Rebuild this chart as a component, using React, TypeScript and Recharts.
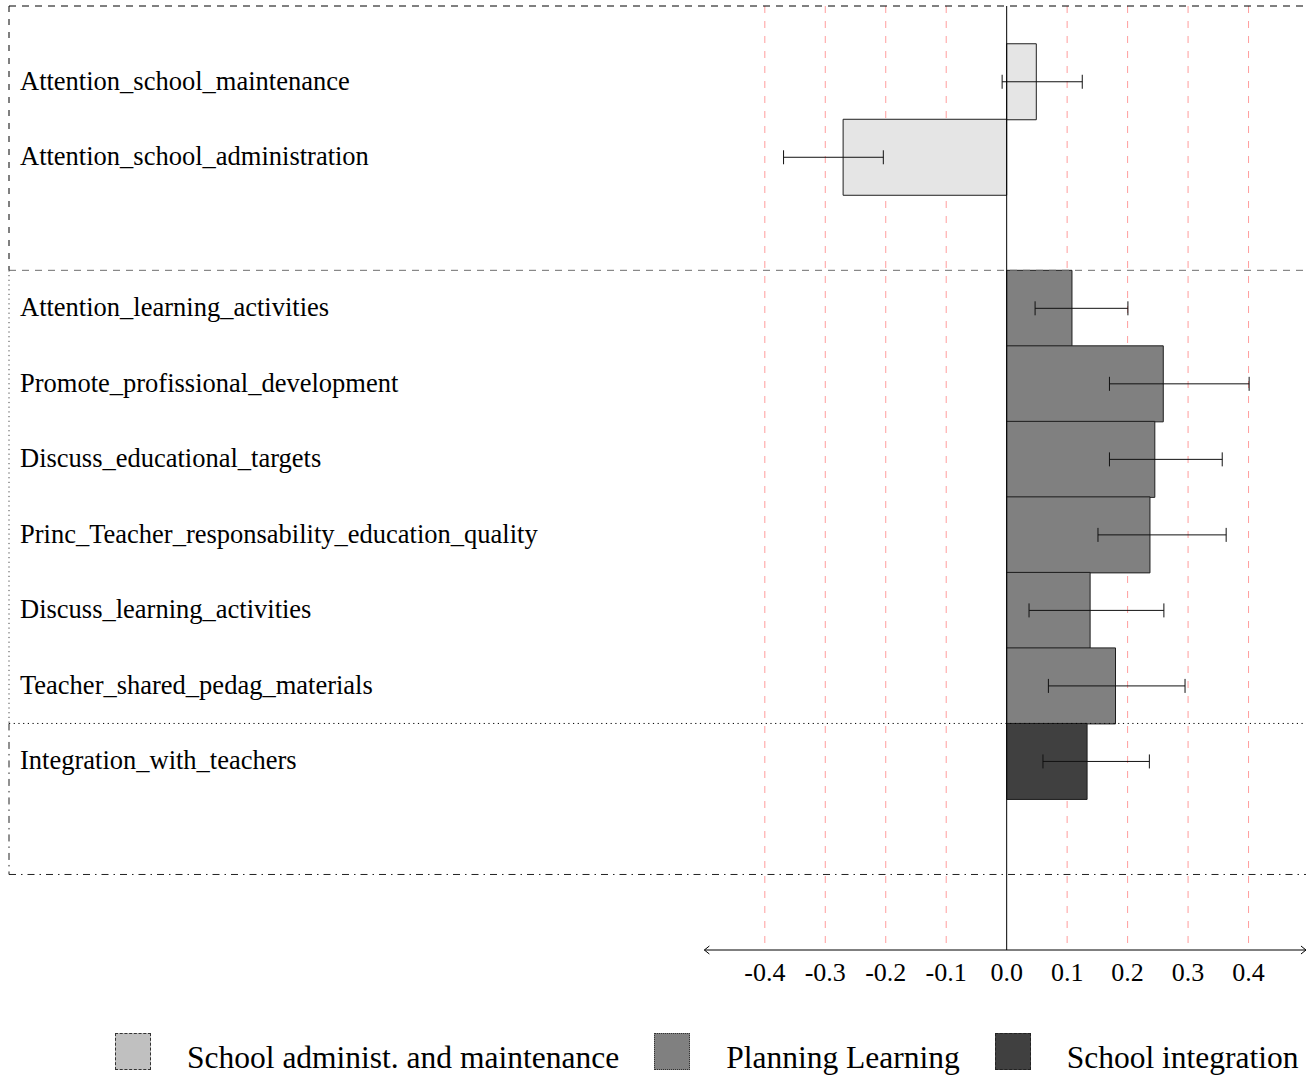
import React from 'react';
import { BarChart, Bar, Cell, XAxis, YAxis, CartesianGrid, ReferenceLine, ErrorBar, Legend } from 'recharts';

// Rows from top to bottom; null marks an empty spacer row.
const LABELS: (string | null)[] = [
  'Attention_school_maintenance',
  'Attention_school_administration',
  null,
  'Attention_learning_activities',
  'Promote_profissional_development',
  'Discuss_educational_targets',
  'Princ_Teacher_responsability_education_quality',
  'Discuss_learning_activities',
  'Teacher_shared_pedag_materials',
  'Integration_with_teachers',
  null,
  null,
];

const GROUPS: (string | null)[] = [
  'admin', 'admin', null,
  'planning', 'planning', 'planning', 'planning', 'planning', 'planning',
  'integration', null, null,
];

const VALUES: (number | null)[] = [0.049, -0.2705, null, 0.108, 0.259, 0.245, 0.237, 0.138, 0.18, 0.133, null, null];
const CI_LOW: (number | null)[] = [-0.0075, -0.369, null, 0.047, 0.17, 0.17, 0.151, 0.037, 0.069, 0.06, null, null];
const CI_HIGH: (number | null)[] = [0.125, -0.204, null, 0.2005, 0.401, 0.3565, 0.363, 0.26, 0.295, 0.236, null, null];

const X_TICKS = [-0.4, -0.3, -0.2, -0.1, 0, 0.1, 0.2, 0.3, 0.4];
const AXIS_RANGE = [-0.5, 0.495];

const LEGEND_KEYS = ['admin', 'planning', 'integration'];
const LEGEND_LABELS = ['School administ. and maintenance', 'Planning Learning', 'School integration'];

const GROUP_STYLE: Record<string, { fill: string; swatch: string; border: string }> = {
  admin: { fill: '#e5e5e5', swatch: '#c0c0c0', border: '1px dashed #333' },
  planning: { fill: '#808080', swatch: '#808080', border: '1px dotted #333' },
  integration: { fill: '#404040', swatch: '#404040', border: '1px dashed #222' },
};

const FONT = '"Liberation Serif", "DejaVu Serif", serif';
const W = 1309;
const H = 1078;
const PLOT_TOP = 6;
const PLOT_BOTTOM = 950;
const X_MIN = -1.65;
const X_MAX = 0.5;
const ROWS = LABELS.length;
const BAND = (PLOT_BOTTOM - PLOT_TOP) / (ROWS + 0.5);

const data = LABELS.map((label, i) => ({
  id: label ?? `gap${i}`,
  row: i,
  label: label ?? '',
  group: GROUPS[i],
  value: VALUES[i],
  err:
    VALUES[i] == null || CI_LOW[i] == null || CI_HIGH[i] == null
      ? undefined
      : [(VALUES[i] as number) - (CI_LOW[i] as number), (CI_HIGH[i] as number) - (VALUES[i] as number)],
}));

const labelById: Record<string, string> = Object.fromEntries(data.map((d) => [d.id, d.label]));

// section boundaries of the framed panel, in row units
const planStart = GROUPS.indexOf('planning');
const integStart = GROUPS.indexOf('integration');
const frameBottom = GROUPS.lastIndexOf('integration') + 2;

// vertical grid only at the non-zero ticks, placed by the x scale
const gridX = ({ xAxis }: any) => {
  const s = xAxis.scale;
  const map = (v: number) => (typeof s === 'function' ? s(v) : s.map(v));
  return X_TICKS.filter((t) => t !== 0).map(map);
};

const RowLabel = (props: any) => {
  const { y, payload } = props;
  const text = labelById[payload.value];
  if (!text) return null;
  return (
    <text x={20} y={y} dy={8} fontSize={26.5} fontFamily={FONT} fill="#000" textAnchor="start">
      {text}
    </text>
  );
};

const XTick = (props: any) => {
  const { x, y, payload } = props;
  return (
    <text x={x} y={y} dy={23} fontSize={26} fontFamily={FONT} fill="#000" textAnchor="middle">
      {Number(payload.value).toFixed(1)}
    </text>
  );
};

const ArrowAxis = (props: any) => {
  const { x1, y1, x2, y2 } = props;
  return (
    <g stroke="#000" strokeWidth={1} fill="none">
      <line x1={x1} y1={y1} x2={x2} y2={y2} />
      <polyline points={`${x1 + 5},${y1 - 4} ${x1},${y1} ${x1 + 5},${y1 + 4}`} />
      <polyline points={`${x2 - 5},${y2 - 4} ${x2},${y2} ${x2 - 5},${y2 + 4}`} />
    </g>
  );
};

const renderLegend = () => (
  <div style={{ display: 'flex', alignItems: 'flex-start', paddingLeft: 115, fontFamily: FONT, fontSize: 31.5 }}>
    {LEGEND_KEYS.map((key, i) => (
      <div key={key} style={{ display: 'flex', alignItems: 'flex-start', marginRight: 35 }}>
        <div
          style={{
            width: 34,
            height: 35,
            background: GROUP_STYLE[key].swatch,
            border: GROUP_STYLE[key].border,
            marginRight: 36,
          }}
        />
        <span style={{ lineHeight: '36px', marginTop: 6.5, color: '#000', whiteSpace: 'nowrap' }}>{LEGEND_LABELS[i]}</span>
      </div>
    ))}
  </div>
);

const frameLines = [
  { y: -0.5, dash: '7 6', stroke: '#000' },
  { y: planStart, dash: '7 6', stroke: '#6e6e6e' },
  { y: integStart, dash: '1.2 3.5', stroke: '#000' },
  { y: frameBottom, dash: '7 5 1.5 5', stroke: '#222' },
];

const frameSides = [
  { from: -0.5, to: planStart, dash: '6 7', stroke: '#000' },
  { from: planStart, to: integStart, dash: '1.2 3.5', stroke: '#444' },
  { from: integStart, to: frameBottom, dash: '7 5 1.5 5', stroke: '#222' },
];

export default function App() {
  return (
    <div
      style={{
        position: 'absolute',
        left: 0,
        top: 0,
        width: 1306,
        height: 1078,
        overflow: 'hidden',
        background: '#fff',
      }}
    >
      <BarChart
        width={W}
        height={H}
        layout="vertical"
        data={data}
        barCategoryGap={0}
        margin={{ top: PLOT_TOP, right: 0, bottom: H - PLOT_BOTTOM - 60, left: 0 }}
      >
        <CartesianGrid
          horizontal={false}
          stroke="#ff9d9d"
          strokeDasharray="7 8"
          verticalCoordinatesGenerator={gridX}
        />
        <XAxis
          type="number"
          domain={[X_MIN, X_MAX]}
          allowDataOverflow
          ticks={X_TICKS}
          interval={0}
          height={60}
          axisLine={false}
          tickLine={false}
          tick={<XTick />}
        />
        <YAxis
          type="category"
          dataKey="id"
          width={9}
          interval={0}
          axisLine={false}
          tickLine={false}
          padding={{ top: BAND / 2, bottom: 0 }}
          tick={<RowLabel />}
        />
        {/* row-unit axis used to place the frame and the x axis arrow */}
        <YAxis yAxisId="frame" type="number" dataKey="row" domain={[-0.5, ROWS]} hide allowDataOverflow />

        {frameLines.map((l) => (
          <ReferenceLine
            key={`h${l.y}`}
            yAxisId="frame"
            ifOverflow="visible"
            segment={[{ x: X_MIN, y: l.y }, { x: X_MAX, y: l.y }]}
            stroke={l.stroke}
            strokeWidth={1}
            strokeDasharray={l.dash}
          />
        ))}
        {frameSides.map((s) => (
          <ReferenceLine
            key={`v${s.from}`}
            yAxisId="frame"
            ifOverflow="visible"
            segment={[{ x: X_MIN, y: s.from }, { x: X_MIN, y: s.to }]}
            stroke={s.stroke}
            strokeWidth={1}
            strokeDasharray={s.dash}
          />
        ))}

        <Bar dataKey="value" isAnimationActive={false} stroke="#1e1e1e" strokeWidth={1}>
          {data.map((d) => (
            <Cell key={d.id} fill={d.group ? GROUP_STYLE[d.group].fill : 'none'} />
          ))}
          <ErrorBar dataKey="err" direction="x" width={7} stroke="#111" strokeWidth={1} isAnimationActive={false} />
        </Bar>

        <ReferenceLine yAxisId="frame" x={0} stroke="#000" strokeWidth={1} />
        <ReferenceLine
          yAxisId="frame"
          ifOverflow="visible"
          segment={[{ x: AXIS_RANGE[0], y: ROWS }, { x: AXIS_RANGE[1], y: ROWS }]}
          shape={ArrowAxis}
        />

        <Legend
          layout="vertical"
          align="center"
          verticalAlign="middle"
          wrapperStyle={{ top: 1033, left: 0, width: 1306, height: 40 }}
          content={renderLegend}
        />
      </BarChart>
    </div>
  );
}
